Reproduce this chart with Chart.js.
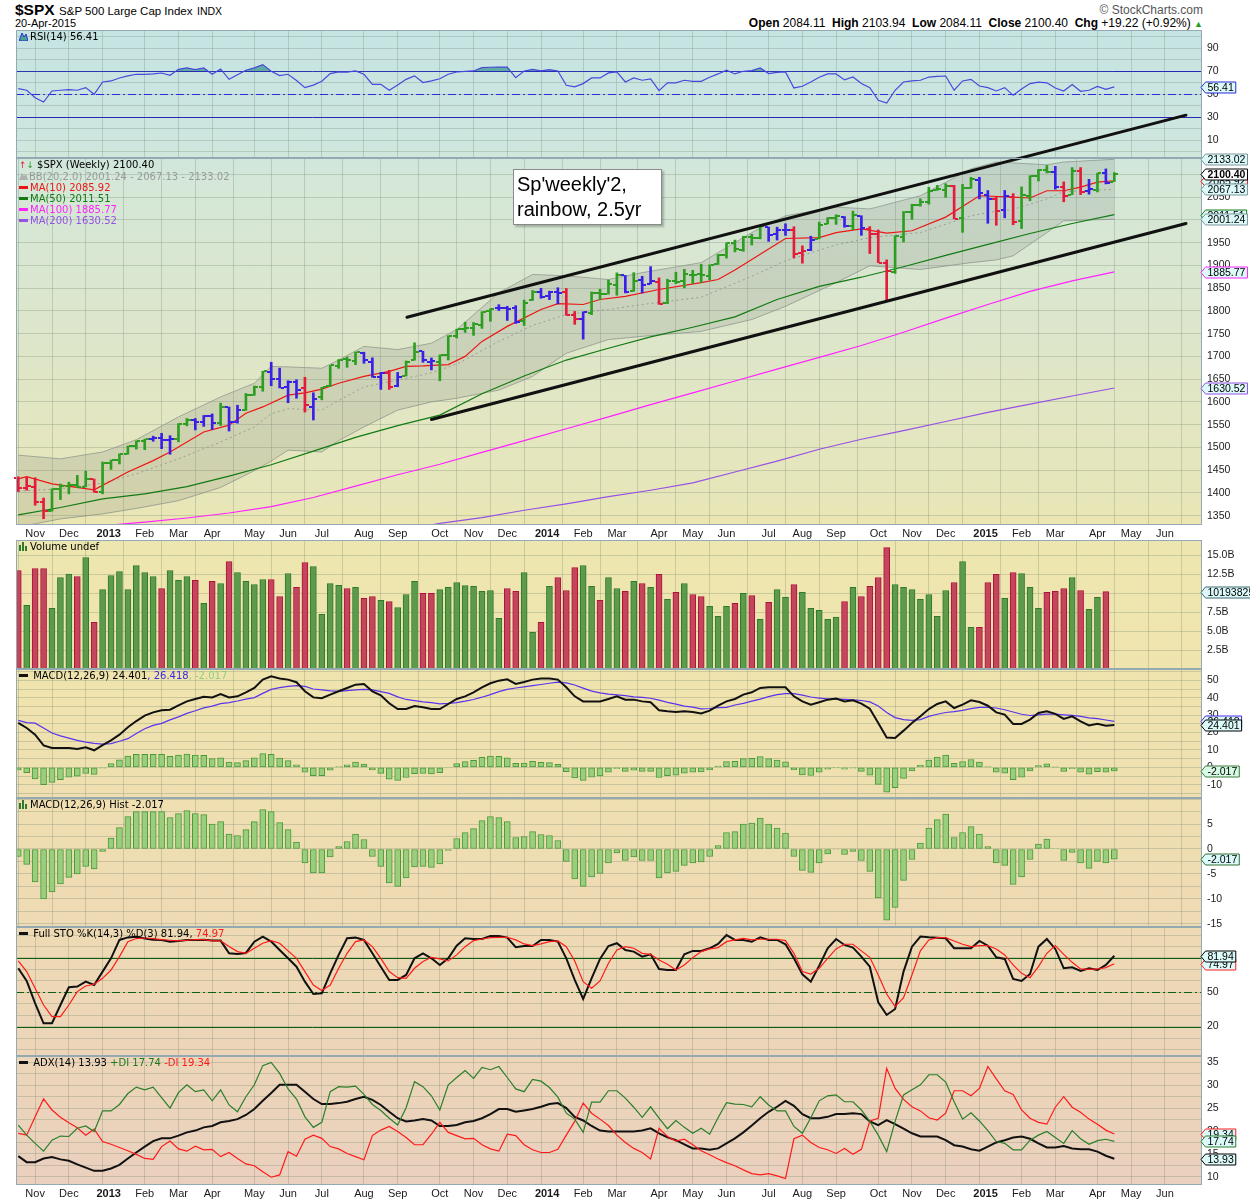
<!DOCTYPE html>
<html>
<head>
<meta charset="utf-8">
<script src="https://cdn.jsdelivr.net/npm/chart.js@4.4.1/dist/chart.umd.min.js"></script>
<style>
  html,body{margin:0;padding:0;background:#fff;}
  body{width:1250px;height:1200px;position:relative;overflow:hidden;font-family:'DejaVu Sans',Verdana,sans-serif;}
  canvas{position:absolute;left:0;}
  .lg{position:absolute;left:19px;font-family:'DejaVu Sans',Verdana,sans-serif;font-size:10px;line-height:11px;z-index:8;white-space:nowrap;color:#000;}
  .dash{display:inline-block;width:9px;height:3px;vertical-align:middle;margin-right:2px;position:relative;top:-1px;}
  .hdr{position:absolute;font-family:'Liberation Sans',Arial,sans-serif;white-space:nowrap;z-index:8;}
  #note{position:absolute;left:513px;top:169px;width:141px;height:50px;background:#fff;border:1px solid #8a8a8a;box-shadow:2px 2px 2px rgba(0,0,0,0.25);font-family:'Liberation Sans',Arial,sans-serif;font-size:20px;line-height:25px;padding:2px 3px;z-index:9;color:#000;}
</style>
</head>
<body>
<div style="position:absolute;left:16px;top:30px;width:1186px;height:1155px;z-index:0;background:linear-gradient(to bottom,#c6e4e3 0px,#cde6df 110px,#d4e7d8 150px,#dde6cb 300px,#e7e6b9 470px,#ece6b2 495px,#eee6af 520px,#f0e4ae 650px,#efdeb1 790px,#eed9b5 920px,#ecd4ba 1060px,#ead0be 1155px);"></div>
<div style="position:absolute;left:16px;top:525px;width:1186px;height:15px;background:#fff;z-index:1;"></div>

<div class="hdr" style="left:15px;top:1px;"><b style="font-size:15.5px;">$SPX</b> <span style="font-size:11.5px;">S&amp;P 500 Large Cap Index</span> <span style="font-size:10.5px;">INDX</span></div>
<div class="hdr" id="hdrDate" style="left:15px;top:17px;font-size:11px;"></div>
<div class="hdr" style="right:47px;top:3px;font-size:12px;color:#555;">&copy; StockCharts.com</div>
<div class="hdr" id="hdrOhlc" style="right:47px;top:16px;font-size:12px;"></div>

<canvas id="cRsi" width="1250" height="128" style="top:30px;z-index:2;"></canvas>
<canvas id="cPx" width="1250" height="515" style="top:30px;z-index:3;"></canvas>
<canvas id="cVol" width="1250" height="129" style="top:540px;z-index:4;"></canvas>
<canvas id="cMacd" width="1250" height="129" style="top:669px;z-index:4;"></canvas>
<canvas id="cHist" width="1250" height="129" style="top:798px;z-index:4;"></canvas>
<canvas id="cSto" width="1250" height="129" style="top:927px;z-index:4;"></canvas>
<canvas id="cAdx" width="1250" height="144" style="top:1056px;z-index:4;"></canvas>

<div class="lg" style="top:31px;"><svg width="9" height="9" style="vertical-align:-1px;margin-right:2px"><polygon points="0,9 3,1 5,5 7,2 9,9" fill="#4aa39a" stroke="#2a2ad0" stroke-width="1"/></svg><span id="lgRsi"></span></div>
<div class="lg" id="lgPx" style="top:159px;"></div>
<div class="lg" style="top:541px;"><svg width="9" height="9" style="vertical-align:-1px;margin-right:2px"><rect x="0" y="3" width="2" height="6" fill="#2f7a2f"/><rect x="3" y="0" width="2" height="9" fill="#2f7a2f"/><rect x="6" y="4" width="2" height="5" fill="#2f7a2f"/></svg>Volume undef</div>
<div class="lg" id="lgMacd" style="top:670px;"></div>
<div class="lg" id="lgHist" style="top:799px;"></div>
<div class="lg" id="lgSto" style="top:928px;"></div>
<div class="lg" id="lgAdx" style="top:1057px;"></div>

<div id="note">Sp'weekly'2,<br>rainbow, 2.5yr</div>

<script>
// ---------------- DATA (weekly bars, week 0 = week of 22-Oct-2012) ----------------
const lastDate = '20-Apr-2015';
const closes = [
1411.94,1414.20,1379.85,1359.88,1409.15,1416.18,1418.07,1413.58,1430.15,1402.43,
1466.47,1472.05,1485.98,1502.96,1513.17,1517.93,1519.79,1515.60,1518.20,1551.18,
1560.70,1556.89,1569.19,1553.28,1588.85,1555.25,1582.24,1614.42,1633.70,1667.47,
1649.60,1630.74,1643.38,1626.73,1592.43,1606.28,1631.89,1680.19,1692.09,1691.65,
1709.67,1691.42,1655.83,1663.50,1632.97,1655.17,1687.99,1709.91,1691.75,1690.50,
1703.20,1744.50,1759.77,1761.64,1770.61,1798.18,1804.76,1805.81,1805.09,1775.32,
1818.32,1841.40,1831.37,1842.37,1838.70,1790.29,1782.59,1797.02,1838.63,1836.25,
1859.45,1878.04,1841.13,1866.52,1857.62,1865.09,1815.69,1864.85,1863.40,1881.14,
1878.48,1877.86,1900.53,1923.57,1949.44,1936.16,1962.87,1960.96,1985.44,1967.57,
1978.22,1978.34,1925.15,1931.59,1955.06,1988.40,2003.37,2007.71,1985.54,2010.40,
1982.85,1967.90,1906.13,1886.76,1964.58,2018.05,2031.92,2039.82,2063.50,2067.56,
2075.37,2002.33,2070.65,2088.77,2058.20,2044.81,2019.42,2051.82,1994.99,2055.47,
2096.99,2110.30,2104.50,2071.26,2053.40,2108.10,2061.02,2066.96,2102.06,2081.18,
2100.40];
const opens = [
1433.20,1410.99,1414.02,1380.00,1359.88,1409.00,1416.34,1418.07,1413.54,1430.15,
1402.43,1466.47,1472.05,1485.98,1502.96,1513.17,1517.93,1519.79,1515.60,1518.20,
1551.15,1560.70,1556.89,1569.18,1553.26,1588.84,1555.25,1582.34,1614.40,1632.10,
1665.71,1649.60,1631.71,1644.67,1630.64,1588.77,1609.78,1634.20,1679.59,1694.41,
1690.32,1708.01,1688.37,1655.25,1664.29,1635.95,1656.85,1691.70,1711.44,1687.26,
1687.15,1702.68,1745.20,1759.42,1763.40,1769.96,1798.82,1806.33,1806.55,1806.21,
1777.48,1822.92,1841.47,1832.31,1842.29,1841.05,1791.03,1782.68,1796.20,1839.03,
1836.78,1857.68,1877.86,1842.81,1867.67,1859.16,1863.92,1818.18,1865.79,1865.00,
1879.45,1880.03,1876.66,1902.01,1923.87,1948.97,1934.84,1962.92,1960.79,1984.22,
1969.86,1976.93,1978.25,1926.62,1933.43,1958.36,1991.74,2004.07,2007.17,1986.04,
2009.08,1978.96,1970.01,1905.65,1885.62,1962.97,2018.21,2032.01,2038.29,2065.07,
2065.78,2074.84,2005.03,2069.28,2087.63,2054.44,2046.13,2020.76,2050.42,1996.67,
2053.47,2096.47,2109.83,2105.23,2072.25,2055.35,2107.99,2064.11,2064.87,2102.94,
2084.11];
const highs = [
1435.50,1434.27,1433.38,1388.81,1409.16,1419.70,1423.73,1438.59,1448.00,1430.67,
1467.94,1472.30,1485.98,1503.26,1514.41,1518.31,1524.69,1530.94,1525.84,1552.48,
1563.62,1563.62,1570.28,1573.66,1597.35,1588.84,1592.64,1618.46,1635.01,1667.47,
1687.18,1674.21,1646.53,1648.69,1654.19,1620.07,1632.07,1680.19,1693.12,1698.78,
1709.67,1709.24,1696.81,1664.85,1669.51,1664.83,1689.97,1729.86,1711.44,1696.55,
1703.44,1745.31,1759.82,1775.22,1774.54,1798.22,1804.84,1813.55,1810.02,1811.52,
1823.75,1844.89,1849.44,1843.23,1850.84,1849.31,1798.77,1798.03,1841.65,1847.50,
1867.92,1883.57,1877.87,1883.97,1875.92,1897.28,1872.53,1869.63,1884.89,1891.33,
1889.07,1902.17,1901.26,1924.03,1949.44,1955.55,1963.91,1968.17,1985.59,1984.22,
1983.94,1991.39,1984.85,1942.92,1964.04,1995.23,2005.04,2011.17,2007.17,2019.26,
2009.08,1985.17,1977.84,1912.09,1965.27,2018.19,2034.26,2046.18,2071.46,2075.76,
2079.47,2075.78,2077.85,2093.55,2093.55,2064.43,2049.30,2064.62,2057.62,2072.40,
2097.03,2110.61,2119.59,2117.52,2083.49,2114.86,2114.86,2088.97,2102.61,2111.91,
2103.94];
const lows = [
1403.30,1405.95,1373.03,1343.35,1359.88,1385.43,1398.11,1411.88,1413.54,1401.58,
1398.11,1451.64,1463.76,1485.01,1496.33,1495.02,1513.61,1497.29,1485.01,1512.29,
1547.36,1538.57,1546.22,1539.50,1548.20,1536.03,1553.28,1581.28,1614.40,1623.47,
1635.53,1630.74,1598.23,1608.07,1577.70,1560.33,1604.57,1634.20,1673.80,1676.03,
1681.86,1684.91,1654.19,1627.47,1627.47,1633.41,1656.85,1691.70,1687.11,1670.36,
1646.47,1692.13,1740.50,1752.70,1746.20,1761.56,1777.23,1800.79,1779.09,1772.28,
1767.99,1822.92,1827.74,1824.83,1815.52,1790.29,1770.45,1737.92,1791.83,1824.58,
1836.78,1834.44,1839.57,1842.81,1839.49,1859.16,1814.36,1815.80,1859.70,1850.61,
1859.79,1862.36,1868.14,1902.01,1915.98,1929.62,1930.91,1944.69,1958.22,1952.86,
1955.59,1965.77,1916.37,1904.78,1932.38,1958.36,1991.01,1990.10,1983.76,1978.48,
1965.99,1926.03,1906.05,1820.66,1882.30,1951.37,2001.01,2030.17,2034.46,2064.75,
2049.57,2002.33,1972.56,2069.28,2046.04,1992.44,1988.12,2004.49,1989.18,1980.90,
2041.88,2085.44,2103.00,2067.27,2039.69,2055.35,2055.46,2056.52,2061.30,2079.00,
2084.11];
// Elder impulse state: 1 up, -1 down, 0 neutral
const impulse = [
-1,-1,-1,-1,1,1,1,1,1,-1,
1,1,1,1,1,1,0,0,0,1,
1,0,0,0,1,0,0,1,1,1,
0,0,0,0,-1,0,1,1,1,1,
1,0,0,0,-1,0,1,1,0,0,
1,1,1,1,1,1,1,0,0,0,
1,1,0,0,0,-1,-1,0,1,1,
1,1,0,1,0,0,-1,1,1,1,
1,1,1,1,1,1,1,1,1,0,
0,0,-1,-1,0,1,1,1,0,1,
0,-1,-1,-1,1,1,1,1,1,1,
1,-1,1,1,0,0,-1,0,-1,1,
1,1,1,0,-1,1,-1,0,1,0,
1];
// weekly volume, billions (last week undefined)
const volumeB = [
12.98,8.38,13.25,13.25,7.98,12.06,12.50,12.19,14.69,6.14,
10.48,12.32,12.85,10.48,13.64,12.72,12.19,10.61,12.98,11.67,
12.19,11.67,8.64,11.54,11.27,14.17,12.72,11.54,11.14,11.80,
11.80,9.56,12.59,10.75,14.04,13.51,7.19,11.27,11.01,10.61,
10.75,9.30,9.56,9.04,8.90,8.11,9.82,11.54,9.96,9.96,
10.48,10.75,11.40,11.00,10.88,10.22,10.35,6.67,10.61,10.22,
12.72,4.82,6.14,10.88,12.06,10.35,13.38,13.64,10.88,9.04,
12.06,10.61,10.22,11.54,11.27,10.75,12.46,9.17,10.09,11.27,
9.82,9.56,8.25,6.93,8.25,8.64,9.96,9.69,6.54,8.77,
10.48,9.43,11.14,10.09,7.98,7.72,6.54,6.84,8.90,10.75,
9.56,10.88,12.06,16.00,11.14,10.75,10.48,9.17,9.82,6.93,
10.35,11.40,14.17,5.48,5.48,11.40,12.46,9.30,12.72,12.59,
10.75,7.98,10.09,10.22,10.61,12.06,10.35,7.85,9.43,10.193825,
null];
const rsi = [
55,53.5,47,43.3,52.9,53.5,54,53.5,55.8,50,
60.7,61.6,64.2,66,67.4,67.4,67.8,68.5,66.5,71.7,
72.9,71.5,72.9,67.4,72,63,67,70.9,73,75.8,
70,66.3,67.4,62,55.8,58,61.3,68,69.5,69.2,
70.3,67.4,58.7,58.7,53.5,58,63,66,60.2,61.6,
63.5,67.4,69.4,70,70.3,73.2,73.5,73.7,73.7,64.5,
70.3,71.7,70.3,71.5,70.3,57.8,56.4,59.3,64.2,64.2,
68.6,69.4,60.7,64.2,62.2,63.3,53.2,59.9,59.9,62.2,
61.3,61.3,64.8,67.7,70.9,67.7,70,70.6,72.9,68,
69.1,69.4,55.5,57,60.7,64.8,67.7,67.7,62.5,65,
59.3,55.8,44.8,42.4,53.5,60.7,61.6,62.2,65,65.5,
65.9,53.5,61.6,63,57.2,55.8,52.9,55.8,49.1,54.6,
59.3,60.5,60,55.5,52.9,58.4,52.6,53.5,56.9,54.3,
56.41];
const macd = [
25.5,22.6,18.8,12.6,11.1,11.1,11.1,10.5,11.5,9.8,
12.8,15.5,18.8,23,26.6,29.7,31.6,32.8,33.1,35.6,
37.9,39.3,40.6,40.2,42.1,40.2,40.8,43.1,45.6,50.4,
52.3,51.1,50.4,48.9,43.7,40.2,39.7,41.8,43.7,45.6,
47.5,47.9,43.7,41.4,36.8,33.5,33.5,35.2,34.5,33.5,
33.5,36.4,39.3,40.8,43.1,46,48.3,49.8,50.6,47.9,
49,50.4,51,51,50.4,46,40.8,37.9,37.9,37.9,
39.3,40.8,38.9,38.9,37.9,37.4,32.8,32.2,31.8,32.2,
31.8,31,32.6,35.4,37.9,39.3,41.8,43.1,45.6,46,
46,46,40.8,37.9,36,37.4,38.9,39.5,37.9,38.5,
36.6,33.7,25.5,17.2,16.9,21.1,25.5,29.3,33.5,36.4,
37.9,34.1,36,38.5,37.5,35.4,31.6,30.3,24.9,24.9,
27.4,31.2,32.2,30.7,27.8,29.3,26.4,24.1,25.1,23.9,
24.401];
const signal = [
27.0,25.7,25.4,22.6,19.7,18.1,16.8,15.5,14.5,13.8,
13.3,13.6,15,16.5,19.5,22.2,24.1,25.3,27.3,29,
31,32.5,34.2,35.2,36.6,37.2,38.1,39.2,40.1,42.5,
44.8,45.8,46.5,47,46.5,45,44.5,43.9,43.7,44.1,
44.5,44.8,44.5,43.5,42.5,40.5,39,38.3,37.6,37.2,
36.5,36.7,37.2,38,39,40.3,41.8,43.5,44.8,45.6,
46.2,46.9,47.6,48.3,49,48.5,47.3,45.5,43.8,42.8,
42.1,41.6,41.2,40.5,40.2,39.7,38.6,37.3,36.3,35.2,
34.6,33.6,33.8,34.3,34.5,35.8,36.8,38,39.2,40.6,
41.8,42.4,42.3,41.5,40.4,39.8,39.3,39.2,39,38.8,
38.4,37.6,35.3,31.5,28.6,27.4,27,27.4,29.3,30.5,
31.5,32,32.7,33.7,34.5,34.5,34.1,33.1,31.8,30.5,
29.8,30.2,30.6,30.6,30.2,29.9,29.3,28.4,28,27.2,
26.418];
const hist = [
-1.5,-3.1,-6.6,-10,-8.6,-7,-5.7,-5,-3.5,-4,
-0.5,2.2,4.3,6.5,7.5,7.5,7.5,7.5,6.3,7.1,
7.7,7.1,6.9,5,5.5,3,2.7,3.9,5.5,7.9,
7.5,5.3,3.9,1.4,-2.8,-4.8,-4.8,-1.6,0.5,1.5,
3,1.9,-1.5,-3.5,-6.8,-7.5,-5.8,-3.6,-3.5,-3.7,
-3,-0.3,2.1,3.3,4.1,5.7,6.5,6.3,5.5,2.3,
2.5,3.5,2.9,2.7,1.7,-2.5,-6,-7.5,-5.6,-4.9,
-2.8,-0.8,-2.3,-1.6,-2.3,-2.3,-5.8,-4.8,-4.5,-3.3,
-2.8,-2.6,-1.5,0.7,3.3,3.5,5,5.2,6.2,5,
4.2,3.2,-1.5,-4.3,-4.7,-2.8,-1,-0.1,-1.1,-0.5,
-2.3,-4.5,-9.8,-14.3,-11.7,-6.3,-2.1,1.2,4.2,5.9,
7,2.3,3.3,4.5,3,0.5,-2.8,-3.3,-7.1,-5.6,
-2.1,1,2,0.1,-2.3,-0.7,-2.8,-3.9,-2.5,-2.8,
-2.017];
const stoK = [
71,59.9,40.4,22.9,22.9,38.9,54.4,55,59.3,56.4,
68.1,79.7,95.8,98,98.5,97,96,95.8,94.3,94.9,
95.8,95.8,96,95.2,95.2,84.1,83.5,84.4,94.3,98.7,
94.3,87,79.7,72.4,59.3,48.5,49.1,66.6,82.7,97.2,
97.8,95.8,84.1,72.4,60.8,60.8,65.2,79.7,84,79.7,
73.9,79.7,90.8,97.2,96.6,96.6,99.3,99.3,97.8,89.4,
90.5,90.5,95.8,95.8,94.3,79.7,60.8,44.2,62.2,79.2,
90.5,92.9,87,85.6,81.2,83.2,70.4,69.5,69.5,83.2,
86.2,86.2,88.5,92.3,100,95.8,95.8,94.3,98.1,95.8,
95.8,92,79.7,65.7,59.3,73.3,88.5,96.6,91.4,89.1,
81.2,72.4,41.3,30.2,35.4,68.1,89.9,98.7,98.1,97.8,
97.2,88.5,88.5,88.5,94.9,90.8,80.6,79.2,61.7,59.9,
66,89.9,96.6,87.9,71,71.9,68.7,71,69.5,73.9,
81.94];
const stoD = [
77.4,68.1,53.5,38.9,28.7,28.7,38.9,50.6,55.5,57,
62.2,69.5,81.2,94.3,97,97.5,97,96,95.5,95,
95.5,96,96,95,95,90,85.6,84.1,88.5,92.9,
95.2,92.9,86.2,79.7,68.1,56.4,51.5,56.4,71,84.1,
94.3,95.8,90,79.7,68.1,62.8,62.2,71,77,80.6,
79.2,77.4,82.7,89.9,95.2,96.6,97.8,98.1,98.1,95.8,
92.3,90.8,92.3,94.3,94.9,89.9,77.4,59.3,53.5,59.9,
75.4,87,89.9,88.5,84.1,83.2,78.3,74.5,69.5,73.9,
80.3,85.6,87.9,89.1,94.3,95.8,97.2,95.8,96.4,96.4,
96.4,95.2,84.1,68.1,66,71,79.7,87.9,92,92,
86.2,80.6,65.2,48.5,37.5,45.3,65.2,86.2,95.8,97.8,
97.8,94.9,92,89.9,90.8,90.8,87.9,82.7,73.9,66.6,
62.8,72.4,84.1,90.8,83.2,76.2,70.4,70.1,70.4,71.6,
74.97];
const adx = [
14.5,13.2,13.2,14,14.3,13.8,13.5,12.7,12,11.3,
11.3,11.8,12.6,14,15.3,16.6,17.8,18.4,18.4,19,
19.7,20.1,20.8,21.1,21.9,22.2,22.6,23.5,24.8,26.6,
28.3,30.1,30.1,30.1,28.6,27,25.9,25.9,26.1,26.4,
27,27.5,26.8,25.7,24.2,22.8,22.1,22.3,22.6,22.3,
21.1,21.1,21.3,21.9,22.2,22.8,23.7,24.8,24.8,24.2,
24.5,24.8,25.3,25.9,26.1,25,23.1,22.3,21.1,20.1,
19.9,19.9,19.9,19.9,20.1,20.6,19.5,18.6,18,17.1,
16.2,16.2,15.9,16.2,17.3,18.4,19.7,21.2,22.8,24.2,
25.3,26.6,25.5,23.7,22.8,22.8,23.1,23.7,23.7,23.9,
23.7,22.1,21.3,22.4,21.5,20.5,19.5,18.8,18.8,18.8,
18,16.9,16.6,16,15.7,16.6,17.5,18,18.6,18.8,
18.3,17.3,16.4,16.4,16.7,16.2,16,16,15.5,14.6,
13.93];
const plusDI = [
21.3,19.1,17.3,15.6,18,18.9,18.8,20.6,21.1,19.9,
24.4,24.4,25.8,28.2,29.6,29,29.6,27.3,25,28.4,
30.1,28.6,29,26.6,29,25.7,24.2,27.5,30.1,34.3,
35,32.6,29.2,27,23.1,20.8,21.9,28.6,29.7,29.6,
29.8,28,25.8,24.5,22.8,21.3,25.1,30.8,29.7,27.7,
24.6,30.1,31.7,33.2,31.5,33.9,33.4,34.1,31.7,29.2,
28.6,31.3,30.9,29.5,27.4,23.9,22.6,19.7,26.3,26.3,
28.8,28.8,27.2,25.2,23,25.3,22.8,20.5,22.3,20.8,
19.5,20.6,19.3,22.9,26.2,25.9,25.8,25.3,27.5,25.7,
24.4,24.4,21,19.5,22.9,26.6,27.7,27.9,26.4,26.4,
24.6,22.1,19.1,15.5,22.1,27.9,29,30.1,32.3,32.3,
30.7,26.4,22.6,24,22.2,20.1,17.7,17.3,15.9,15.9,
18,19.1,19.9,18.6,17.3,20.1,18.3,17.1,17.9,18.2,
17.74];
const minusDI = [
19.5,19.1,23.1,27,24.6,23,21.8,20.7,19.1,20.4,
17.7,17.1,16.4,15.7,14.9,14,13.8,16.6,17.8,16.1,
15.6,16.7,15.9,16,14.4,15.3,14,12.8,12.4,11.1,
9.9,10.4,15.5,14.5,18.2,19.1,18.4,16.6,16.1,15.1,
14.4,13.7,19,20.2,21,19.9,18.6,17,17,19.3,
21.9,19.7,19,18.3,18.4,17,16.1,15.6,19.3,19,
17,15.9,15.3,15.3,16,19.1,22.1,26.1,23.9,22.6,
21.2,19.1,17.5,16.2,15.3,13.9,20.6,18.8,17.8,18.2,
17,15.7,14.8,13.9,13.1,12.4,11.5,10.7,10.4,10.7,
10.2,9.6,18.3,19.1,17.5,16.4,15.9,15.1,16.2,14.9,
16,22.2,22.8,33.7,29.3,26.9,25.3,24.4,22.9,22.4,
23.9,28.8,28.8,27.7,29.3,34.1,31.4,28.8,28,24.6,
22.8,21.9,21.5,25.2,27.5,25.2,24.1,22.6,21.5,20.2,
19.34];
// moving averages read at sampled weeks
const maWeeks = [0,5,10,15,20,25,30,35,40,45,50,55,60,65,70,75,80,85,90,95,100,105,110,115,120,125,130];
const ma50  = [1352,1368,1387,1398,1414,1437,1462,1492,1522,1548,1571,1618,1657,1692,1718,1743,1764,1787,1825,1854,1874,1897,1922,1946,1970,1992,2011.51];
const ma100 = [1308,1318,1328,1336,1345,1356,1370,1390,1415,1440,1463,1489,1515,1541,1567,1594,1620,1646,1672,1698,1724,1753,1784,1814,1843,1866,1885.77];
const ma200 = [1200,1213,1226,1239,1252,1265,1278,1291,1304,1317,1333,1346,1362,1376,1392,1406,1422,1446,1470,1496,1518,1537,1557,1577,1595,1613,1630.52];
const ma10Weeks = [0,1,4,9,13,16,18,22,25,27,29,32,34,36,38,41,44,46,48,51,53,55,58,62,64,67,69,72,76,81,83,85,89,91,95,97,100,103,106,110,114,118,120,122,124,126,128,130];
const ma10 = [1431,1436,1420,1407,1446,1471,1490,1534,1549,1575,1589,1615,1620,1628,1641,1656,1667,1678,1679,1682,1700,1733,1766,1803,1816,1814,1825,1832,1847,1862,1869,1890,1936,1959,1961,1972,1980,1971,1976,2006,2053,2050,2048,2064,2064,2072,2083,2085.92];
const bbWeeks = [0,5,10,14,19,24,28,30,32,36,38,41,45,49,52,57,61,65,70,74,81,87,91,97,101,107,113,116,118,122,124,130];
const bbUpper = [1483,1475,1490,1517,1567,1611,1641,1678,1677,1674,1692,1722,1715,1729,1759,1840,1880,1877,1869,1884,1906,1972,2009,2028,2024,2053,2112,2127,2125,2121,2127,2133.02];
const bbMid   = [1404,1409,1422,1442,1475,1512,1545,1574,1585,1582,1603,1633,1648,1664,1683,1733,1768,1792,1803,1814,1830,1876,1910,1945,1961,1972,2009,2019,2023,2046,2062,2067.13];
const bbLower = [1325,1343,1354,1366,1383,1412,1449,1470,1494,1490,1515,1545,1582,1600,1608,1626,1656,1707,1737,1744,1755,1781,1810,1862,1899,1891,1906,1912,1921,1972,1998,2001.24];
// hand-drawn channel lines: [week1, price1, week2, price2]
const trendLines = [[46.1,1786,138.5,2230],[49.0,1561.5,138.5,1992]];
// axes
const monthWeeks  = [2,6,10,15,19,23,28,32,36,41,45,50,54,58,62,67,71,76,80,84,89,93,97,102,106,110,114,119,123,128,132,136];
const monthLabels = ['Nov','Dec','2013','Feb','Mar','Apr','May','Jun','Jul','Aug','Sep','Oct','Nov','Dec','2014','Feb','Mar','Apr','May','Jun','Jul','Aug','Sep','Oct','Nov','Dec','2015','Feb','Mar','Apr','May','Jun'];
const priceTicks = [1350,1400,1450,1500,1550,1600,1650,1700,1750,1800,1850,1900,1950,2000,2050,2100];
const rsiTicks = [0,10,20,30,40,50,60,70,80,90,100];
const rsiTickLabels = [10,30,50,70,90];
const volTicks = [2.5,5,7.5,10,12.5,15];
const macdTicks = [-15,-10,-5,0,5,10,15,20,25,30,35,40,45,50,55];
const macdTickLabels = [-10,0,10,20,30,40,50];
const histTicks = [-15,-12.5,-10,-7.5,-5,-2.5,0,2.5,5,7.5,10];
const histTickLabels = [-15,-10,-5,0,5];
const stoTicks = [0,10,20,30,40,50,60,70,80,90,100];
const stoTickLabels = [20,50,80];
const adxTicks = [10,12.5,15,17.5,20,22.5,25,27.5,30,32.5,35];
const adxTickLabels = [10,15,20,25,30,35];

// ---------------- STYLE ----------------
const FONT = "'DejaVu Sans', Verdana, sans-serif";
const AXFAM = "'Liberation Sans', Arial, sans-serif";
const AXF = {family: AXFAM, size: 10.5};
const X_MIN = -0.27, X_MAX = 140.4;
const GRID = 'rgba(105,125,105,0.27)';
const FRAME = '#93aab3';
const impColor = s => s > 0 ? '#2e9e22' : (s < 0 ? '#e41b3a' : '#3a1fe6');
const last = a => a[a.length - 1];
const seq = a => a.map((v, i) => ({x: i, y: v}));
const pts = (w, v) => w.map((x, k) => ({x, y: v[k]}));

Chart.defaults.font.family = FONT;

function xAxis(show, h) {
  return {
    type: 'linear', min: X_MIN, max: X_MAX, offset: false,
    afterBuildTicks: s => { s.ticks = monthWeeks.map(v => ({value: v})); },
    afterFit: s => { s.height = show ? h : 0; s.paddingLeft = 0; s.paddingRight = 0; },
    ticks: {
      display: show, autoSkip: false, maxRotation: 0, minRotation: 0, padding: 2, color: '#1a1a1a',
      font: c => ({family: AXFAM, size: 11, weight: /^\d{4}$/.test(monthLabels[c.index] || '') ? 'bold' : 'normal'}),
      callback: (v, i) => /^\d{4}$/.test(monthLabels[i]) ? '    ' + monthLabels[i] : monthLabels[i]
    },
    grid: {color: GRID, drawTicks: false, lineWidth: 1},
    border: {display: false}
  };
}
function yAxis(min, max, tickVals, labelVals, fmt) {
  return {
    position: 'right', min, max,
    afterBuildTicks: s => { s.ticks = tickVals.map(v => ({value: v})); },
    afterFit: s => { s.width = 48; s.paddingTop = 0; s.paddingBottom = 0; },
    ticks: {autoSkip: false, padding: 5, color: '#1a1a1a', font: AXF,
      callback: v => (labelVals === null || labelVals.includes(v)) ? fmt(v) : ''},
    grid: {color: GRID, drawTicks: false},
    border: {display: false}
  };
}
const baseOpts = (padTop, scales) => ({
  responsive: false, animation: false, devicePixelRatio: 1, events: [],
  layout: {padding: {left: 16, right: 0, top: padTop, bottom: 0}},
  plugins: {legend: {display: false}, tooltip: {enabled: false}},
  elements: {point: {radius: 0}, line: {tension: 0}},
  scales
});
const line = (data, color, width, extra) => Object.assign({type: 'line', data, borderColor: color, borderWidth: width, pointRadius: 0, fill: false, tension: 0}, extra || {});

// plugins
const framePlugin = {id: 'frame', afterDraw(ch) {
  const {ctx, chartArea: a} = ch; ctx.save(); ctx.strokeStyle = FRAME; ctx.lineWidth = 1;
  ctx.strokeRect(Math.round(a.left) + 0.5, Math.round(a.top) + 0.5, Math.round(a.right - a.left) - 1, Math.round(a.bottom - a.top) - 1);
  ctx.restore(); }};
const hLines = lines => ({id: 'hlines', beforeDatasetsDraw(ch) {
  const {ctx, chartArea: a, scales: {y}} = ch; ctx.save();
  lines.forEach(l => { const py = Math.round(y.getPixelForValue(l.v)) + 0.5;
    ctx.strokeStyle = l.c; ctx.lineWidth = 1; ctx.setLineDash(l.d || []);
    ctx.beginPath(); ctx.moveTo(a.left, py); ctx.lineTo(a.right, py); ctx.stroke(); });
  ctx.restore(); }});
const tagPlugin = tags => ({id: 'tags', afterDraw(ch) {
  const {ctx, chartArea: a, scales: {y}} = ch; ctx.save();
  tags.forEach(t => {
    const py = Math.round(y.getPixelForValue(t.v)) + 0.5;
    ctx.font = (t.bold ? 'bold ' : '') + '10.5px ' + AXFAM;
    const w = ctx.measureText(t.txt).width + 4, x0 = a.right + 3.5;
    ctx.beginPath(); ctx.moveTo(a.right - 1, py); ctx.lineTo(x0, py - 5.5); ctx.lineTo(x0 + w, py - 5.5);
    ctx.lineTo(x0 + w, py + 5.5); ctx.lineTo(x0, py + 5.5); ctx.closePath();
    ctx.fillStyle = t.fill || '#dcfafa'; ctx.fill(); ctx.strokeStyle = t.b; ctx.lineWidth = 1; ctx.stroke();
    ctx.fillStyle = '#000'; ctx.textBaseline = 'middle'; ctx.textAlign = 'left';
    ctx.fillText(t.txt, x0 + 2, py + 0.5);
  });
  ctx.restore(); }});
const ohlcPlugin = {id: 'ohlc', afterDatasetsDraw(ch) {
  const {ctx, scales: {x, y}} = ch; ctx.save();
  closes.forEach((c, i) => {
    const px = Math.round(x.getPixelForValue(i));
    ctx.fillStyle = impColor(impulse[i]);
    ctx.fillRect(px - 4, Math.round(y.getPixelForValue(opens[i])) - 1, 3, 2);
    ctx.fillRect(px + 1, Math.round(y.getPixelForValue(c)) - 1, 3, 2);
  });
  ctx.strokeStyle = '#111'; ctx.lineWidth = 3; ctx.lineCap = 'round';
  trendLines.forEach(t => {
    ctx.beginPath(); ctx.moveTo(x.getPixelForValue(t[0]), y.getPixelForValue(t[1]));
    ctx.lineTo(x.getPixelForValue(t[2]), y.getPixelForValue(t[3])); ctx.stroke();
  });
  ctx.restore(); }};

// ---------------- RSI ----------------
new Chart(document.getElementById('cRsi'), {
  type: 'line',
  data: {datasets: [line(seq(rsi), '#4848dc', 1.2, {fill: {target: {value: 70}, above: 'rgba(70,158,148,0.8)', below: 'rgba(0,0,0,0)'}})]},
  options: baseOpts(0, {x: xAxis(false, 0), y: yAxis(-5.4, 105.9, rsiTicks, rsiTickLabels, v => String(v))}),
  plugins: [hLines([{v: 70, c: '#2626b8'}, {v: 30, c: '#2626b8'}, {v: 50, c: '#2b2be2', d: [8, 3, 2, 3]}]), framePlugin,
    tagPlugin([{v: last(rsi), txt: last(rsi).toFixed(2), b: '#2a2ad8'}])]
});

// ---------------- PRICE ----------------
const impBar = {type: 'bar', data: closes.map((c, i) => ({x: i, y: [lows[i], highs[i]]})),
  backgroundColor: c => impColor(impulse[c.dataIndex]), barThickness: 2, borderWidth: 0, order: 0};
new Chart(document.getElementById('cPx'), {
  type: 'line',
  data: {datasets: [
    line(pts(bbWeeks, bbUpper), 'rgba(140,150,140,0.75)', 1, {fill: '+1', backgroundColor: 'rgba(105,115,105,0.17)', order: 8}),
    line(pts(bbWeeks, bbLower), 'rgba(140,150,140,0.75)', 1, {order: 8}),
    line(pts(bbWeeks, bbMid), 'rgba(150,150,150,0.9)', 1, {borderDash: [2, 3], order: 7}),
    line(pts(maWeeks, ma200), '#9650e6', 1.2, {order: 6}),
    line(pts(maWeeks, ma100), '#ff22ff', 1.2, {order: 5}),
    line(pts(maWeeks, ma50), '#127a12', 1.2, {order: 4}),
    line(pts(ma10Weeks, ma10), '#ee1515', 1.2, {order: 3}),
    impBar
  ]},
  options: baseOpts(128, {x: xAxis(true, 20), y: yAxis(1329.6, 2135.9, priceTicks, null, v => String(v))}),
  plugins: [ohlcPlugin, framePlugin, tagPlugin([
    {v: last(ma10), txt: last(ma10).toFixed(2), b: '#ee1515'},
    {v: last(ma50), txt: last(ma50).toFixed(2), b: '#127a12'},
    {v: last(bbUpper), txt: last(bbUpper).toFixed(2), b: '#7f969e'},
    {v: last(bbMid), txt: last(bbMid).toFixed(2), b: '#7f969e'},
    {v: last(bbLower), txt: last(bbLower).toFixed(2), b: '#7f969e'},
    {v: last(ma100), txt: last(ma100).toFixed(2), b: '#ff22ff'},
    {v: last(ma200), txt: last(ma200).toFixed(2), b: '#9650e6'},
    {v: last(closes), txt: last(closes).toFixed(2), b: '#000', fill: '#fff', bold: true}
  ])]
});

// ---------------- VOLUME ----------------
const volPts = volumeB.map((v, i) => ({x: i, y: v})).filter(p => p.y !== null);
const volUp = p => p.x > 0 ? closes[p.x] >= closes[p.x - 1] : closes[p.x] >= opens[p.x];
new Chart(document.getElementById('cVol'), {
  type: 'bar',
  data: {datasets: [{data: volPts, barThickness: 6, borderWidth: 1, borderSkipped: false,
    backgroundColor: c => volUp(c.raw) ? '#5e9a4c' : '#c2465c',
    borderColor: c => volUp(c.raw) ? '#2c7a2c' : '#b0103c'}]},
  options: baseOpts(0, {x: xAxis(false, 0), y: yAxis(0, 17, volTicks, null, v => v.toFixed(1) + 'B')}),
  plugins: [framePlugin, tagPlugin([{v: last(volPts).y, txt: String(Math.round(last(volPts).y * 1e9)), b: '#3c6a70'}])]
});

// ---------------- MACD ----------------
const histBar = {type: 'bar', data: seq(hist), barThickness: 6, borderWidth: 1, borderSkipped: false,
  backgroundColor: '#9bce7c', borderColor: '#4a9a3a', order: 3};
new Chart(document.getElementById('cMacd'), {
  type: 'line',
  data: {datasets: [histBar,
    line(seq(signal), '#5a34ec', 1.2, {order: 2}),
    line(seq(macd), '#111', 2, {order: 1})]},
  options: baseOpts(0, {x: xAxis(false, 0), y: yAxis(-17.6, 56.5, macdTicks, macdTickLabels, v => String(v))}),
  plugins: [framePlugin, tagPlugin([
    {v: last(signal), txt: last(signal).toFixed(3), b: '#4a2ae8'},
    {v: last(macd), txt: last(macd).toFixed(3), b: '#000'},
    {v: last(hist), txt: last(hist).toFixed(3), b: '#3a7a3a', fill: '#d8fbe6'}])]
});

// ---------------- MACD HIST ----------------
new Chart(document.getElementById('cHist'), {
  type: 'bar',
  data: {datasets: [Object.assign({}, histBar, {type: 'bar'})]},
  options: baseOpts(0, {x: xAxis(false, 0), y: yAxis(-15.65, 10.23, histTicks, histTickLabels, v => String(v))}),
  plugins: [framePlugin, tagPlugin([{v: last(hist), txt: last(hist).toFixed(3), b: '#2f6f2f'}])]
});

// ---------------- FULL STO ----------------
new Chart(document.getElementById('cSto'), {
  type: 'line',
  data: {datasets: [line(seq(stoD), '#ff1a1a', 1.2), line(seq(stoK), '#111', 2)]},
  options: baseOpts(0, {x: xAxis(false, 0), y: yAxis(-5.7, 107.1, stoTicks, stoTickLabels, v => String(v))}),
  plugins: [hLines([{v: 80, c: '#0d5f0d'}, {v: 20, c: '#0d5f0d'}, {v: 50, c: '#0d5f0d', d: [8, 3, 2, 3]}]), framePlugin,
    tagPlugin([{v: last(stoD), txt: last(stoD).toFixed(2), b: '#ff1a1a'}, {v: last(stoK), txt: last(stoK).toFixed(2), b: '#000'}])]
});

// ---------------- ADX ----------------
new Chart(document.getElementById('cAdx'), {
  type: 'line',
  data: {datasets: [line(seq(plusDI), '#2a7f2a', 1.2), line(seq(minusDI), '#ff1a1a', 1.2), line(seq(adx), '#111', 2)]},
  options: baseOpts(0, {x: xAxis(true, 15), y: yAxis(8.2, 36.4, adxTicks, adxTickLabels, v => String(v))}),
  plugins: [framePlugin, tagPlugin([
    {v: last(minusDI), txt: last(minusDI).toFixed(2), b: '#ff1a1a'},
    {v: last(plusDI), txt: last(plusDI).toFixed(2), b: '#2a7f2a'},
    {v: last(adx), txt: last(adx).toFixed(2), b: '#000'}])]
});

// ---------------- TEXT ----------------
const n = closes.length - 1;
const chg = closes[n] - closes[n - 1];
document.getElementById('hdrDate').textContent = lastDate;
document.getElementById('hdrOhlc').innerHTML =
  '<b>Open</b> ' + opens[n].toFixed(2) + ' &nbsp;<b>High</b> ' + highs[n].toFixed(2) + ' &nbsp;<b>Low</b> ' + lows[n].toFixed(2) +
  ' &nbsp;<b>Close</b> ' + closes[n].toFixed(2) + ' &nbsp;<b>Chg</b> ' + (chg >= 0 ? '+' : '') + chg.toFixed(2) +
  ' (' + (chg >= 0 ? '+' : '') + (chg / closes[n - 1] * 100).toFixed(2) + '%) <span style="color:#2a9a2a;font-size:9px">&#9650;</span>';
document.getElementById('lgRsi').textContent = 'RSI(14) ' + last(rsi).toFixed(2);
const dash = c => '<span class="dash" style="background:' + c + '"></span>';
document.getElementById('lgPx').innerHTML =
  '<div><span style="color:#e41b3a;font-size:9px">&#8593;</span><span style="color:#2e9e22;font-size:9px;margin-right:3px">&#8595;</span>$SPX (Weekly) ' + closes[n].toFixed(2) + '</div>' +
  '<div style="color:#9a9a9a"><svg width="9" height="8" style="margin-right:1px"><polygon points="0,8 3,1 5,4 7,2 9,8" fill="#b0b0b0"/></svg>BB(20,2.0) ' + last(bbLower).toFixed(2) + ' - ' + last(bbMid).toFixed(2) + ' - ' + last(bbUpper).toFixed(2) + '</div>' +
  '<div style="color:#ee1515">' + dash('#ee1515') + 'MA(10) ' + last(ma10).toFixed(2) + '</div>' +
  '<div style="color:#127a12">' + dash('#127a12') + 'MA(50) ' + last(ma50).toFixed(2) + '</div>' +
  '<div style="color:#ff22ff">' + dash('#ff22ff') + 'MA(100) ' + last(ma100).toFixed(2) + '</div>' +
  '<div style="color:#9650e6">' + dash('#9650e6') + 'MA(200) ' + last(ma200).toFixed(2) + '</div>';
document.getElementById('lgMacd').innerHTML = dash('#111') + ' MACD(12,26,9) ' + last(macd).toFixed(3) +
  '<span style="color:#3a2ae0">, ' + last(signal).toFixed(3) + '</span><span style="color:#8fcf78">, ' + last(hist).toFixed(3) + '</span>';
document.getElementById('lgHist').innerHTML = '<svg width="9" height="9" style="vertical-align:-1px;margin-right:2px"><rect x="0" y="3" width="2" height="6" fill="#2f7a2f"/><rect x="3" y="0" width="2" height="9" fill="#2f7a2f"/><rect x="6" y="4" width="2" height="5" fill="#2f7a2f"/></svg>MACD(12,26,9) Hist ' + last(hist).toFixed(3);
document.getElementById('lgSto').innerHTML = dash('#111') + ' Full STO %K(14,3) %D(3) ' + last(stoK).toFixed(2) + ', <span style="color:#ff1a1a">' + last(stoD).toFixed(2) + '</span>';
document.getElementById('lgAdx').innerHTML = dash('#111') + ' ADX(14) ' + last(adx).toFixed(2) +
  ' <span style="color:#1f7a1f">+DI ' + last(plusDI).toFixed(2) + '</span> <span style="color:#ff1a1a">-DI ' + last(minusDI).toFixed(2) + '</span>';
</script>
</body>
</html>
